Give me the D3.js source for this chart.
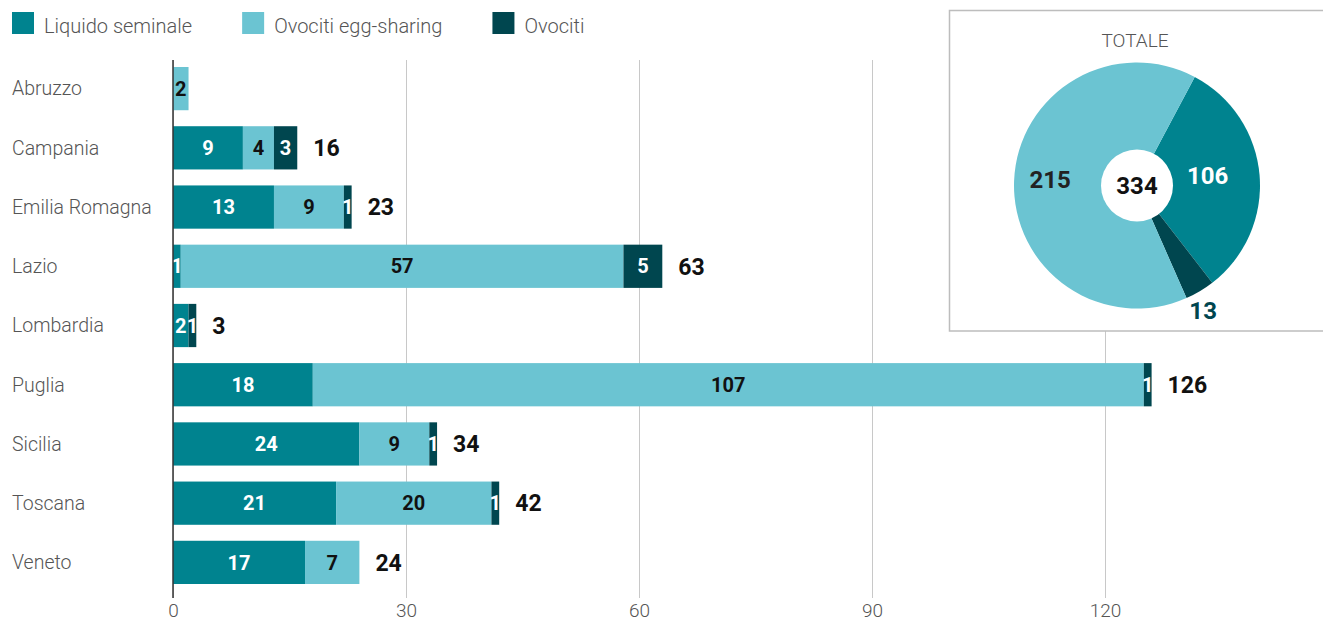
<!DOCTYPE html>
<html>
<head>
<meta charset="utf-8">
<script src="https://cdn.jsdelivr.net/npm/d3@7"></script>
<style>
  html, body { margin: 0; padding: 0; background: #fff; }
  svg { display: block; font-family: Roboto, "Noto Sans", sans-serif; }
</style>
</head>
<body>
<svg id="chart" width="1323" height="626"></svg>
<script>
// ---- data ----
const regions = ["Abruzzo", "Campania", "Emilia Romagna", "Lazio", "Lombardia", "Puglia", "Sicilia", "Toscana", "Veneto"];
const liquidoSeminale = [0, 9, 13, 1, 2, 18, 24, 21, 17];
const ovocitiEggSharing = [2, 4, 9, 57, 0, 107, 9, 20, 7];
const ovociti = [0, 3, 1, 5, 1, 1, 1, 1, 0];
const seriesNames = ["Liquido seminale", "Ovociti egg-sharing", "Ovociti"];
const xTicks = [0, 30, 60, 90, 120];
const pieTitle = "TOTALE";
const pieNames = ["Liquido seminale", "Ovociti", "Ovociti egg-sharing"];
const pieValues = [106, 13, 215];
const pieTotal = 334;

// ---- styles ----
const colors = {
  "Liquido seminale": "#00838f",
  "Ovociti egg-sharing": "#6bc4d2",
  "Ovociti": "#00464f"
};
const segLabelColor = {
  "Liquido seminale": "#ffffff",
  "Ovociti egg-sharing": "#111111",
  "Ovociti": "#ffffff"
};
const lightFont = "Roboto";
const svg = d3.select("#chart");

const rows = regions.map((r, i) => ({
  region: r,
  "Liquido seminale": liquidoSeminale[i],
  "Ovociti egg-sharing": ovocitiEggSharing[i],
  "Ovociti": ovociti[i]
}));

const x = d3.scaleLinear().domain([0, 120]).range([173, 1105]);
const y = d3.scaleBand().domain(regions).range([59, 592]).paddingInner(0.27).paddingOuter(0.135);

const gridTop = 60, gridBottom = 598;

// grid + axis
const axis = d3.axisBottom(x).tickValues(xTicks).tickSizeInner(-(gridBottom - gridTop)).tickSizeOuter(0).tickPadding(6);
const gAxis = svg.append("g").attr("transform", `translate(0,${gridBottom})`).call(axis);
gAxis.select(".domain").remove();
gAxis.selectAll(".tick line").attr("stroke", "#c8c8c8").attr("stroke-width", 1);
gAxis.selectAll(".tick text")
  .attr("font-family", lightFont).attr("font-weight", 300)
  .attr("font-size", 19).attr("fill", "#555");

// stacked bars
const stack = d3.stack().keys(seriesNames);
const stacked = stack(rows);
const gBars = svg.append("g");
stacked.forEach(s => {
  const key = s.key;
  const g = gBars.append("g");
  g.selectAll("rect").data(s).join("rect")
    .attr("x", d => x(d[0]))
    .attr("y", d => y(d.data.region))
    .attr("width", d => Math.max(0, x(d[1]) - x(d[0])))
    .attr("height", y.bandwidth())
    .attr("fill", colors[key]);
  g.selectAll("text").data(s.filter(d => d[1] - d[0] > 0)).join("text")
    .attr("x", d => (x(d[0]) + x(d[1])) / 2)
    .attr("y", d => y(d.data.region) + y.bandwidth() / 2)
    .attr("dy", "0.36em")
    .attr("text-anchor", "middle")
    .attr("font-weight", 700)
    .attr("font-size", 20)
    .attr("fill", segLabelColor[key])
    .text(d => d[1] - d[0]);
});

// totals
const totals = rows.map(r => ({
  region: r.region,
  total: d3.sum(seriesNames, k => r[k]),
  parts: seriesNames.filter(k => r[k] > 0).length
}));
svg.append("g").selectAll("text").data(totals.filter(d => d.parts > 1)).join("text")
  .attr("x", d => x(d.total) + 16)
  .attr("y", d => y(d.region) + y.bandwidth() / 2)
  .attr("dy", "0.36em")
  .attr("font-weight", 700)
  .attr("font-size", 23)
  .attr("fill", "#111")
  .text(d => d.total);

// zero line
svg.append("line")
  .attr("x1", x(0)).attr("x2", x(0))
  .attr("y1", gridTop).attr("y2", gridBottom)
  .attr("stroke", "#333").attr("stroke-width", 1.5);

// category labels
svg.append("g").selectAll("text").data(regions).join("text")
  .attr("x", 12)
  .attr("y", d => y(d) + y.bandwidth() / 2)
  .attr("dy", "0.35em")
  .attr("font-family", lightFont).attr("font-weight", 300)
  .attr("font-size", 19.5).attr("fill", "#555")
  .text(d => d);

// legend
const gLeg = svg.append("g");
let lx = 12;
seriesNames.forEach(name => {
  gLeg.append("rect").attr("x", lx).attr("y", 12).attr("width", 22).attr("height", 22).attr("fill", colors[name]);
  const t = gLeg.append("text").attr("x", lx + 32).attr("y", 26).attr("dy", "0.35em")
    .attr("font-family", lightFont).attr("font-weight", 300)
    .attr("font-size", 20).attr("fill", "#555").text(name);
  lx = lx + 32 + t.node().getComputedTextLength() + 50;
});

// inset pie box
svg.append("rect").attr("x", 949.5).attr("y", 10.5).attr("width", 400).attr("height", 320.5)
  .attr("fill", "#fff").attr("stroke", "#bdbdbd").attr("stroke-width", 1.5);
svg.append("text").attr("x", 1135).attr("y", 40).attr("dy", "0.35em").attr("text-anchor", "middle")
  .attr("font-family", lightFont).attr("font-weight", 300).attr("font-size", 19).attr("fill", "#555")
  .text(pieTitle);

const cx = 1137, cy = 185.5, R = 123, r0 = 36;
const pie = d3.pie().sort(null).value(d => d.value).startAngle(28 * Math.PI / 180).endAngle(28 * Math.PI / 180 + 2 * Math.PI);
const arcs = pie(pieNames.map((n, i) => ({ name: n, value: pieValues[i] })));
const arc = d3.arc().innerRadius(0).outerRadius(R);
const gPie = svg.append("g").attr("transform", `translate(${cx},${cy})`);
gPie.selectAll("path").data(arcs).join("path").attr("d", arc).attr("fill", d => colors[d.data.name]);
gPie.append("circle").attr("r", r0).attr("fill", "#fff");
gPie.append("text").attr("dy", "0.36em").attr("text-anchor", "middle")
  .attr("font-weight", 700).attr("font-size", 24).attr("fill", "#111").text(pieTotal);
const pieLabelColor = { "Liquido seminale": "#fff", "Ovociti egg-sharing": "#222", "Ovociti": "#00464f" };
gPie.selectAll("text.pl").data(arcs).join("text").attr("class", "pl")
  .attr("transform", d => {
    const small = (d.endAngle - d.startAngle) < 0.5;
    const rr = small ? 145 : 79;
    const c = d3.arc().innerRadius(rr).outerRadius(rr).centroid(d);
    return `translate(${c[0] - 8},${c[1] - (small ? 0 : 3)})`;
  })
  .attr("dy", "0.36em").attr("text-anchor", "middle")
  .attr("font-weight", 700).attr("font-size", 24)
  .attr("fill", d => pieLabelColor[d.data.name])
  .text(d => d.value);
</script>
</body>
</html>
